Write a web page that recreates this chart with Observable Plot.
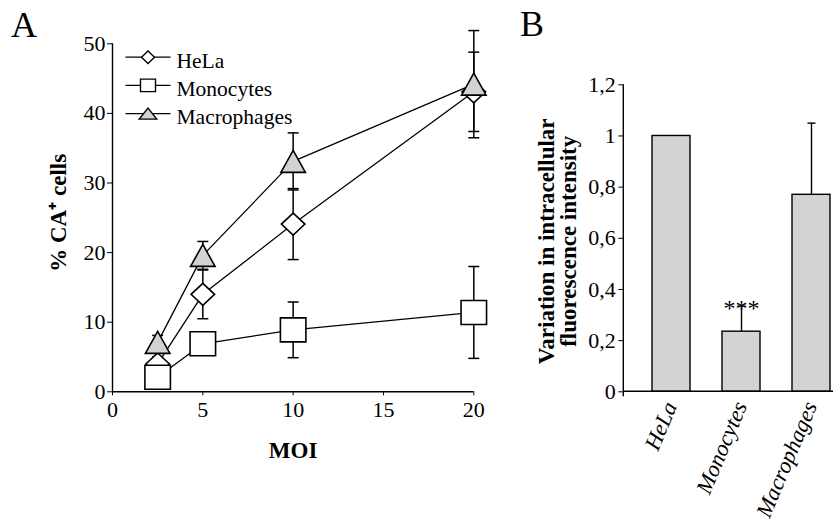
<!DOCTYPE html>
<html>
<head>
<meta charset="utf-8">
<script src="https://cdn.jsdelivr.net/npm/d3@7"></script>
<script src="https://cdn.jsdelivr.net/npm/@observablehq/plot@0.6"></script>
<style>
  html, body { margin: 0; padding: 0; background: white; overflow: hidden; }
  #wrap { position: relative; width: 833px; height: 523px; }
  .panel { position: absolute; top: 0; }
  .letter { position: absolute; font-family: "Liberation Serif", serif; font-size: 36px; line-height: 1; }
  #wrap svg { max-width: none !important; }
  #wrap svg, #wrap svg text, #wrap svg tspan { font-family: "Liberation Serif", serif !important; }
</style>
</head>
<body>
<div id="wrap">
  <div class="panel" id="panelA" style="left:0px"></div>
  <div class="panel" id="panelB" style="left:500px"></div>
  <div class="letter" style="left:11px; top:7px">A</div>
  <div class="letter" style="left:520px; top:6px">B</div>
</div>
<script>
// ---------- Data: panel A ----------
const moi = [2.5, 5, 10, 20];
const seriesA = ["HeLa", "Monocytes", "Macrophages"];
const helaMean = [4.0, 14.0, 24.1, 43.1];
const helaErr = [1.0, 3.5, 5.1, 5.7];
const monoMean = [2.1, 6.9, 8.9, 11.4];
const monoErr = [0.8, 1.5, 4.0, 6.6];
const macroMean = [7.1, 19.6, 33.1, 44.2];
const macroErr = [1.0, 2.0, 4.1, 7.7];
const xTicksA = [0, 5, 10, 15, 20];
const yTicksA = [0, 10, 20, 30, 40, 50];
const xLabelA = "MOI";
const yLabelA = "% CA\u207A cells";

// ---------- Data: panel B ----------
const cellsB = ["HeLa", "Monocytes", "Macrophages"];
const intensityB = [1.0, 0.235, 0.77];
const intensityErrB = [0, 0.10, 0.28];
const sigB = ["", "***", ""];
const yTicksB = [0, 0.2, 0.4, 0.6, 0.8, 1, 1.2];
const yLabelB = "Variation in intracellular\nfluorescence intensity";

// ---------- Symbols ----------
function rectSym(w, h) { return {draw(c) { c.moveTo(-w/2, -h/2); c.lineTo(w/2, -h/2); c.lineTo(w/2, h/2); c.lineTo(-w/2, h/2); c.closePath(); }}; }
function diamondSym(w, h) { return {draw(c) { c.moveTo(0, -h/2); c.lineTo(w/2, 0); c.lineTo(0, h/2); c.lineTo(-w/2, 0); c.closePath(); }}; }
function triSym(w, h) { return {draw(c) { c.moveTo(0, -h/2); c.lineTo(w/2, h/2); c.lineTo(-w/2, h/2); c.closePath(); }}; }
function hline(w) { return {draw(c) { c.moveTo(-w/2, 0); c.lineTo(w/2, 0); }}; }

const means = [helaMean, monoMean, macroMean];
const errs = [helaErr, monoErr, macroErr];
const rowsA = [];
seriesA.forEach((s, i) => moi.forEach((m, j) => rowsA.push({series: s, moi: m, value: means[i][j], err: errs[i][j]})));

const styleA = {
  HeLa: {symbol: diamondSym(23.5, 22), fill: "white", leg: diamondSym(13, 12.5)},
  Monocytes: {symbol: rectSym(25.5, 24), fill: "white", leg: rectSym(15, 12.5)},
  Macrophages: {symbol: triSym(24.5, 22), fill: "#d2d2d2", leg: triSym(17.5, 11)}
};

const font = "Liberation Serif, serif";

const marksA = [
  Plot.ruleX([0], {y1: 0, y2: 50, stroke: "black", strokeWidth: 1.4}),
  Plot.ruleY([0], {x1: 0, x2: 20, stroke: "black", strokeWidth: 1.4}),
  Plot.ruleX(rowsA, {x: "moi", y1: d => d.value - d.err, y2: d => d.value + d.err, stroke: "black", strokeWidth: 1.5}),
  Plot.dot(rowsA, {x: "moi", y: d => d.value - d.err, symbol: hline(11), stroke: "black", strokeWidth: 1.5}),
  Plot.dot(rowsA, {x: "moi", y: d => d.value + d.err, symbol: hline(11), stroke: "black", strokeWidth: 1.5}),
  Plot.line(rowsA, {x: "moi", y: "value", z: "series", stroke: "black", strokeWidth: 1.3})
];
seriesA.forEach((s, i) => {
  marksA.push(Plot.dot(rowsA.filter(d => d.series === s), {x: "moi", y: "value", symbol: styleA[s].symbol, fill: styleA[s].fill, stroke: "black", strokeWidth: 1.6}));
  // legend entries
  const dy = 13.4 + 28.2 * i;
  marksA.push(Plot.dot([s], {frameAnchor: "top-left", dx: 35.5, dy, symbol: hline(45), stroke: "black", strokeWidth: 1.3}));
  marksA.push(Plot.dot([s], {frameAnchor: "top-left", dx: 35.5, dy, symbol: styleA[s].leg, fill: styleA[s].fill, stroke: "black", strokeWidth: 1.4}));
  marksA.push(Plot.text([s], {frameAnchor: "top-left", dx: 64, dy: dy + 3.5, text: d => d, textAnchor: "start", lineAnchor: "middle", fontSize: 21.5}));
});
marksA.push(Plot.text([xLabelA], {frameAnchor: "bottom", text: d => d, dy: 66.5, lineAnchor: "bottom", fontWeight: "bold", fontSize: 23}));
marksA.push(Plot.text([yLabelA], {frameAnchor: "left", text: d => d, rotate: -90, dx: -54, dy: -5, textAnchor: "middle", lineAnchor: "middle", fontWeight: "bold", fontSize: 23}));

const plotA = Plot.plot({
  width: 500, height: 523,
  marginLeft: 112, marginRight: 26.7, marginTop: 43.3, marginBottom: 131.7,
  style: {fontFamily: font, fontSize: "22px", color: "black", background: "white", overflow: "visible"},
  x: {domain: [0, 20], ticks: xTicksA, tickSize: 4, tickPadding: 6, label: null},
  y: {domain: [0, 50], ticks: yTicksA, tickSize: 5, tickPadding: 2, label: null},
  marks: marksA
});
document.getElementById("panelA").appendChild(plotA);

// ---------- Panel B ----------
const rowsB = cellsB.map((c, i) => ({cell: c, value: intensityB[i], err: intensityErrB[i], sig: sigB[i]}));
const axisLinesB = (index, scales, values, dims) => {
  const g = d3.create("svg:g");
  const x0 = dims.marginLeft;
  g.append("line").attr("x1", x0).attr("x2", x0).attr("y1", dims.marginTop).attr("y2", dims.height - dims.marginBottom + 5)
    .attr("stroke", "black").attr("stroke-width", 1.4);
  g.append("line").attr("x1", x0).attr("x2", dims.width).attr("y1", dims.height - dims.marginBottom).attr("y2", dims.height - dims.marginBottom)
    .attr("stroke", "black").attr("stroke-width", 1.4);
  return g.node();
};
const plotB = Plot.plot({
  width: 333, height: 523,
  marginLeft: 123.3, marginRight: 0, marginTop: 84.3, marginBottom: 131.7,
  style: {fontFamily: font, fontSize: "22px", color: "black", background: "white", overflow: "visible"},
  x: {type: "band", domain: cellsB, range: [123.3, 358.8], paddingInner: 0.455, paddingOuter: 0.386, axis: null},
  y: {domain: [0, 1.2], ticks: yTicksB, tickSize: 5, tickPadding: 3, label: null, tickFormat: d => String(d).replace(".", ",")},
  marks: [
    Plot.barY(rowsB, {x: "cell", y: "value", fill: "#d3d3d5", stroke: "black", strokeWidth: 1.4}),
    Plot.ruleX(rowsB.filter(d => d.err > 0), {x: "cell", y1: "value", y2: d => d.value + d.err, stroke: "black", strokeWidth: 1.4}),
    Plot.dot(rowsB.filter(d => d.err > 0), {x: "cell", y: d => d.value + d.err, symbol: hline(8), stroke: "black", strokeWidth: 1.4}),
    Plot.text(rowsB.filter(d => d.sig), {x: "cell", y: d => d.value + d.err, text: "sig", dy: 10, lineAnchor: "bottom", fontSize: 24}),
    Plot.text(rowsB, {x: "cell", frameAnchor: "bottom", text: "cell", rotate: -67, textAnchor: "end", lineAnchor: "bottom", dx: 6, dy: 14, fontStyle: "italic", fontSize: 22.5}),
    Plot.text([yLabelB], {frameAnchor: "left", text: d => d, rotate: -90, dx: -66, dy: 3, textAnchor: "middle", lineAnchor: "middle", lineHeight: 0.96, fontWeight: "bold", fontSize: 23}),
    axisLinesB
  ]
});
document.getElementById("panelB").appendChild(plotB);
</script>
</body>
</html>
